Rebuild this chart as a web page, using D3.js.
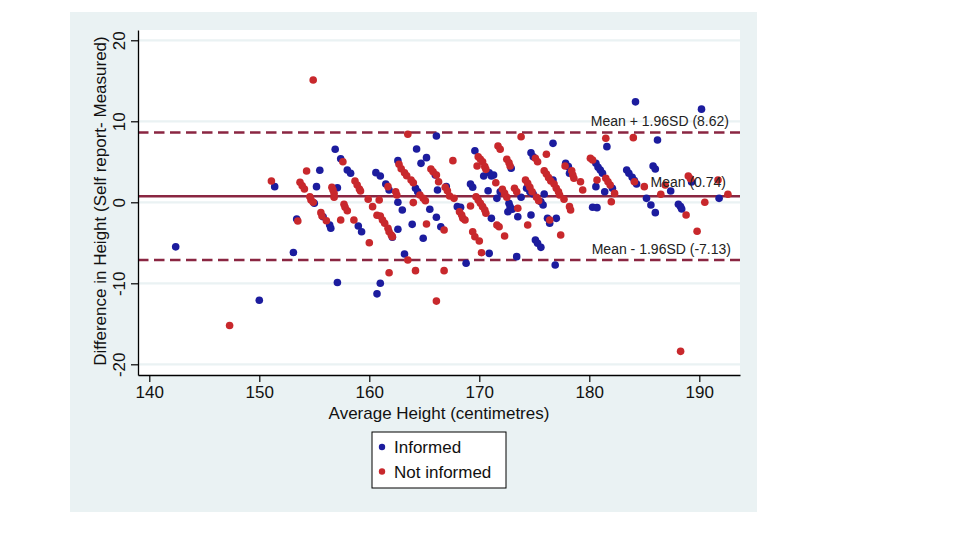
<!DOCTYPE html>
<html>
<head>
<meta charset="utf-8">
<script src="https://cdn.jsdelivr.net/npm/d3@7"></script>
<style>
  html, body { margin: 0; padding: 0; background: #ffffff; }
  svg { display: block; font-family: "Liberation Sans", Arial, sans-serif; }
</style>
</head>
<body>
<svg id="chart" width="960" height="540"></svg>
<script>
// ---------- data ----------
const informedX = [142.4,150.0,151.4,153.1,153.4,155.5,155.2,155.0,156.4,156.5,156.9,157.4,157.1,157.1,158.0,158.3,159.0,159.3,160.6,161.0,160.7,155.8,166.1,164.3,162.6,164.7,165.2,166.0,161.5,161.8,162.6,163.0,164.2,164.4,166.2,167.0,165.5,166.1,166.5,164.9,162.1,162.6,163.9,163.2,161.0,168.0,168.3,168.8,169.2,169.4,169.6,170.9,171.1,170.4,170.8,171.1,170.9,176.7,172.9,174.7,174.9,171.3,176.7,177.85,178.1,178.2,175.1,175.3,175.6,176.9,173.4,171.9,171.6,172.7,172.8,173.0,173.8,174.3,174.6,174.9,175.6,175.8,175.9,172.6,173.5,174.7,176.2,176.4,177.0,180.3,180.7,180.6,180.8,181.0,181.2,181.6,180.6,181.4,182.1,184.2,190.2,186.2,183.4,183.6,183.9,184.1,184.3,185.2,185.6,186.0,187.4,185.8,186.0,189.3,191.8,188.1,188.3,188.4];
const informedY = [-5.5,-12.1,1.93,-6.2,-2.06,3.95,1.93,-0.12,-2.8,-3.2,6.54,5.38,1.8,-9.9,3.99,3.58,-2.93,-3.63,3.66,3.25,-11.3,-1.78,8.19,6.58,5.14,4.81,5.51,3.37,2.26,1.52,0.0,-0.95,1.73,1.31,1.52,1.93,-0.86,-1.85,-3.01,-4.44,-4.32,-3.33,-2.72,-6.38,-10.0,-0.54,-0.62,-7.53,2.26,1.85,6.37,3.65,3.25,3.25,1.43,-1.98,-6.3,7.28,4.2,6.12,5.63,3.37,2.75,4.81,4.4,3.58,-4.65,-5.06,-5.56,-7.74,-6.71,1.31,0.49,-0.12,-0.54,-0.86,0.62,1.73,1.31,1.02,0.07,-0.33,1.02,-1.16,-1.78,-1.57,-1.98,-2.59,-1.98,-0.62,-0.66,4.81,4.32,3.99,3.58,6.87,1.93,1.31,1.73,12.4,11.5,7.69,3.99,3.58,3.09,2.67,2.26,0.49,-0.33,-1.28,1.4,4.48,4.11,2.5,0.49,-0.25,-0.54,-0.83];

const notInformedX = [147.3,154.9,151.1,153.5,154.3,153.7,153.9,154.1,154.6,154.7,154.9,155.6,155.7,156.1,157.6,156.6,156.7,156.8,156.8,157.7,157.8,158.0,157.4,158.7,158.9,159.1,159.2,158.6,160.0,159.9,160.3,160.7,163.5,162.7,162.9,163.2,163.4,163.8,164.0,165.6,165.8,166.1,166.3,167.6,161.7,162.4,162.5,160.9,164.0,164.6,164.9,165.1,166.9,167.1,167.3,167.7,165.2,166.8,161.0,161.2,161.4,161.7,161.8,162.0,162.1,163.5,161.8,164.2,166.8,166.1,168.2,168.4,168.5,168.7,169.2,169.9,170.1,170.3,169.8,170.5,170.6,169.7,169.9,170.1,170.3,170.5,170.6,169.4,169.6,170.0,170.2,173.8,171.7,171.9,172.5,172.7,172.8,175.1,175.3,176.1,171.5,175.9,176.1,176.3,176.5,176.8,177.0,177.2,177.3,177.7,177.8,178.4,178.5,178.6,179.2,179.4,178.2,178.3,177.4,172.1,172.3,172.5,173.2,173.4,174.2,174.4,174.6,174.8,175.2,175.4,173.5,174.4,176.4,171.6,171.8,172.3,180.1,180.3,181.5,180.7,181.5,181.7,181.9,182.0,184.0,184.1,185.0,182.3,186.5,186.9,189.0,189.2,191.7,192.6,190.5,188.8,189.8,188.3];
const notInformedY = [-15.2,15.1,2.63,-2.3,3.86,2.47,2.05,1.64,0.69,0.28,0.0,-1.28,-1.69,-2.27,5.0,1.85,1.52,1.1,0.62,-0.25,-0.62,-1.04,-2.19,2.63,2.14,1.64,1.4,-2.19,-4.99,0.37,-0.54,-1.6,8.4,4.69,4.15,3.65,3.28,2.75,2.42,4.11,3.78,3.37,2.54,5.14,1.93,1.31,0.9,0.28,-0.04,0.9,0.49,0.2,1.85,1.43,0.78,0.49,-2.68,-3.42,-1.69,-2.19,-2.59,-3.21,-3.63,-4.04,-4.24,-7.12,-8.69,-8.44,-8.44,-12.2,-1.16,-1.57,-1.98,-2.19,-0.46,5.63,5.31,5.01,4.48,4.4,4.07,0.69,0.28,-0.12,-0.54,-0.95,-1.36,-3.63,-4.25,-4.78,-6.22,8.1,6.95,6.54,5.31,4.89,4.48,5.43,5.01,5.93,2.42,3.9,3.49,3.04,2.63,2.26,1.73,1.31,0.9,0.37,4.48,3.9,3.37,2.96,2.54,1.52,-0.54,-0.95,-4.04,1.6,1.1,0.62,1.73,1.31,2.75,2.35,1.85,1.31,0.62,0.2,-0.74,-2.8,-2.19,-2.8,-3.01,-4.16,5.43,5.22,7.9,2.75,2.96,2.54,2.14,0.07,7.98,2.54,1.93,1.1,0.99,2.14,3.25,2.91,2.75,0.99,0.0,-1.57,-3.58,-18.4];

const xTicks = [140, 150, 160, 170, 180, 190];
const yTicks = [-20, -10, 0, 10, 20];
const refValues = [8.62, 0.74, -7.13];
const refLabels = ["Mean + 1.96SD (8.62)", "Mean (0.74)", "Mean - 1.96SD (-7.13)"];
const refDashed = [true, false, true];
const seriesNames = ["Informed", "Not informed"];
const xTitle = "Average Height (centimetres)";
const yTitle = "Difference in Height (Self report- Measured)";

// ---------- layout ----------
const svg = d3.select("#chart");
const colors = { informed: "#1c1c9e", notInformed: "#c8282c", ref: "#8a2642", grid: "#eaf2f3", panel: "#eaf2f3" };
const L = 138, R = 740, T = 30, B = 375;

const x = d3.scaleLinear().domain([138.973, 193.7]).range([L, R]);
const y = d3.scaleLinear().domain([-21.32, 21.27]).range([B, T]);
const plainFormat = d => String(d);   // hyphen-minus like the original

// graph region background
svg.append("rect").attr("x", 70).attr("y", 12).attr("width", 687).attr("height", 500).attr("fill", colors.panel);
// plot region
svg.append("rect").attr("x", L).attr("y", T).attr("width", R - L).attr("height", B - T).attr("fill", "#ffffff");

// grid lines
svg.append("g").selectAll("line").data(yTicks).join("line")
  .attr("x1", L).attr("x2", R)
  .attr("y1", d => y(d)).attr("y2", d => y(d))
  .attr("stroke", colors.grid).attr("stroke-width", 2.2);

// reference lines
svg.append("g").selectAll("line").data(refValues).join("line")
  .attr("x1", L).attr("x2", R)
  .attr("y1", d => y(d)).attr("y2", d => y(d))
  .attr("stroke", colors.ref).attr("stroke-width", 2.4)
  .attr("stroke-dasharray", (d, i) => refDashed[i] ? "10.5,5.5" : null);

// points
const informed = informedX.map((v, i) => ({ x: v, y: informedY[i] }));
const notInformed = notInformedX.map((v, i) => ({ x: v, y: notInformedY[i] }));

svg.append("g").selectAll("circle").data(informed).join("circle")
  .attr("cx", d => x(d.x)).attr("cy", d => y(d.y)).attr("r", 3.8)
  .attr("fill", colors.informed);
svg.append("g").selectAll("circle").data(notInformed).join("circle")
  .attr("cx", d => x(d.x)).attr("cy", d => y(d.y)).attr("r", 3.8)
  .attr("fill", colors.notInformed);

// reference labels
const refOffsets = [-6.5, -9, -6];
svg.append("g").selectAll("text").data(refValues).join("text")
  .attr("x", (d, i) => [729, 726, 731][i])
  .attr("y", (d, i) => y(d) + refOffsets[i])
  .attr("text-anchor", "end")
  .attr("font-size", 14).attr("fill", "#222")
  .text((d, i) => refLabels[i]);

// axes
const xAxis = svg.append("g").attr("transform", `translate(0,${B})`)
  .call(d3.axisBottom(x).tickValues(xTicks).tickFormat(plainFormat).tickSize(7).tickSizeOuter(0).tickPadding(4));
xAxis.selectAll("text").attr("font-size", 17).attr("fill", "#111").attr("font-family", "Liberation Sans, Arial, sans-serif");
xAxis.select(".domain").attr("stroke", "#000").attr("stroke-width", 1.3);
xAxis.selectAll(".tick line").attr("stroke", "#000").attr("stroke-width", 1.2);

const yAxis = svg.append("g").attr("transform", `translate(${L},0)`)
  .call(d3.axisLeft(y).tickValues(yTicks).tickFormat(plainFormat).tickSize(7).tickSizeOuter(0));
yAxis.selectAll("text")
  .attr("x", 0).attr("dy", null).attr("y", -13)
  .attr("transform", "rotate(-90)")
  .attr("text-anchor", "middle")
  .attr("font-size", 17).attr("fill", "#111").attr("font-family", "Liberation Sans, Arial, sans-serif");
yAxis.select(".domain").attr("stroke", "#000").attr("stroke-width", 1.3);
yAxis.selectAll(".tick line").attr("stroke", "#000").attr("stroke-width", 1.2);

// axis titles
svg.append("text").attr("x", (L + R) / 2).attr("y", 419)
  .attr("text-anchor", "middle").attr("font-size", 17).attr("fill", "#111").text(xTitle);
svg.append("text")
  .attr("transform", `translate(106,${(32 + 370) / 2}) rotate(-90)`)
  .attr("text-anchor", "middle").attr("font-size", 17).attr("fill", "#111").text(yTitle);

// legend
const lg = svg.append("g");
lg.append("rect").attr("x", 372).attr("y", 432).attr("width", 134).attr("height", 56)
  .attr("fill", "#ffffff").attr("stroke", "#000").attr("stroke-width", 1);
const legendColors = [colors.informed, colors.notInformed];
seriesNames.forEach((name, i) => {
  lg.append("circle").attr("cx", 382).attr("cy", 447 + i * 24.5).attr("r", 3.2).attr("fill", legendColors[i]);
  lg.append("text").attr("x", 394).attr("y", 453 + i * 24.5).attr("font-size", 17).attr("fill", "#111").text(name);
});
</script>
</body>
</html>
